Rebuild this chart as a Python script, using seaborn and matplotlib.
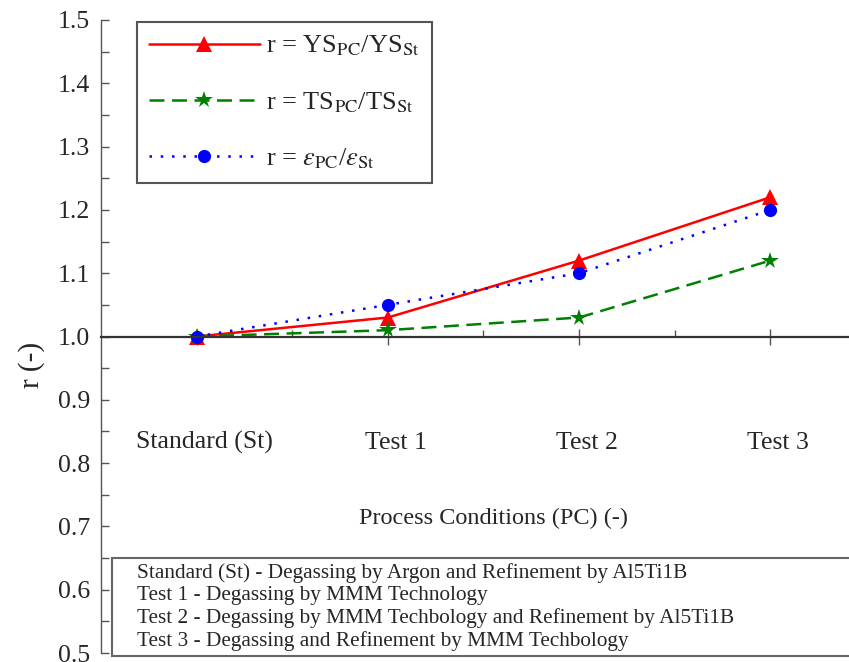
import numpy as np
import pandas as pd
import matplotlib
matplotlib.use("Agg")
import matplotlib.pyplot as plt
import matplotlib.ticker as mticker
from matplotlib.patches import Rectangle
import seaborn as sns

# --- data ---
conditions = ["Standard (St)", "Test 1", "Test 2", "Test 3"]
ys_ratio = [1.00, 1.03, 1.12, 1.22]
ts_ratio = [1.00, 1.01, 1.03, 1.12]
el_ratio = [1.00, 1.05, 1.10, 1.20]

series_labels = [
    r"r = YS$_{\mathrm{PC}}$/YS$_{\mathrm{St}}$",
    r"r = TS$_{\mathrm{PC}}$/TS$_{\mathrm{St}}$",
    r"r = $\varepsilon_{\mathrm{PC}}$/$\varepsilon_{\mathrm{St}}$",
]
notes = [
    "Standard (St) - Degassing by Argon and Refinement by Al5Ti1B",
    "Test 1 - Degassing by MMM Technology",
    "Test 2 - Degassing by MMM Techbology and Refinement by Al5Ti1B",
    "Test 3 - Degassing and Refinement by MMM Techbology",
]

sns.set_style("ticks")
plt.rcParams["font.family"] = ["Liberation Serif", "DejaVu Serif"]
plt.rcParams["mathtext.fontset"] = "stix"

df = pd.DataFrame({"cond": conditions, "YS": ys_ratio, "TS": ts_ratio, "EL": el_ratio})

fig = plt.figure(figsize=(8.49, 6.62), dpi=100)
ax = fig.add_axes([101 / 849, 9 / 662, 765 / 849, 633 / 662])

styles = [
    ("YS", "red", "-", "^", 11),
    ("TS", "green", (0, (6, 3)), "*", 13),
    ("EL", "blue", (0, (1, 3.5)), "o", 9.5),
]
for (col, color, ls, mk, ms), lab in zip(styles, series_labels):
    sns.lineplot(data=df, x="cond", y=col, sort=False, color=color,
                 linestyle=ls, linewidth=1.8, marker=mk, markersize=ms,
                 markeredgewidth=0, label=lab, ax=ax)

ax.set_xlim(-0.5, 3.5)
ax.set_ylim(0.5, 1.5)

# axis styling: x-axis line sits at r = 1.0
for s in ["top", "right"]:
    ax.spines[s].set_visible(False)
ax.spines["bottom"].set_position(("data", 1.0))
ax.spines["bottom"].set_color("#333333")
ax.spines["bottom"].set_linewidth(1.6)
ax.spines["left"].set_color("#555555")
ax.spines["left"].set_linewidth(1.0)

ax.set_xticks(range(len(conditions)))
ax.set_xticklabels([])
ax.xaxis.set_minor_locator(mticker.FixedLocator([0.5, 1.5, 2.5]))
ax.tick_params(axis="x", which="major", direction="inout", length=12, width=1, color="#555555")
ax.tick_params(axis="x", which="minor", direction="in", length=5, width=1, color="#555555")

ax.yaxis.set_major_locator(mticker.MultipleLocator(0.1))
ax.yaxis.set_minor_locator(mticker.MultipleLocator(0.05))
ax.yaxis.set_major_formatter(mticker.FormatStrFormatter("%.1f"))
ax.tick_params(axis="y", which="both", direction="in", length=6, width=1,
               color="#555555", labelsize=18.5, pad=8)

ax.set_xlabel("")
ax.set_ylabel("r (-)", fontsize=21)
ax.yaxis.set_label_coords(-0.073, 0.455)

# category names drawn inside the axes below the r = 1 line
for i, name in enumerate(conditions):
    ax.text(i + 0.04, 0.832, name, ha="center", va="center", fontsize=18.5)
ax.text(1.55, 0.712, "Process Conditions (PC) (-)", ha="center", va="center", fontsize=17.5)

leg = ax.legend(loc="upper left", bbox_to_anchor=(137 / 849, 1 - 22 / 662),
                bbox_transform=fig.transFigure, borderaxespad=0, fontsize=19,
                fancybox=False, framealpha=1, edgecolor="#555555",
                handlelength=4.2, handletextpad=0.25, borderpad=0.45,
                labelspacing=1.2)
leg.get_frame().set_linewidth(1.5)

# description box at the bottom
fig.patches.append(Rectangle((112 / 849, 1 - 656 / 662), 0.9, 98 / 662,
                             transform=fig.transFigure, facecolor="white",
                             edgecolor="#666666", linewidth=1.5, zorder=5))
fig.text(137 / 849, 1 - 607 / 662, "\n".join(notes), ha="left", va="center",
         fontsize=15.3, linespacing=1.22, zorder=6)

fig.savefig("out.png", dpi=100)
